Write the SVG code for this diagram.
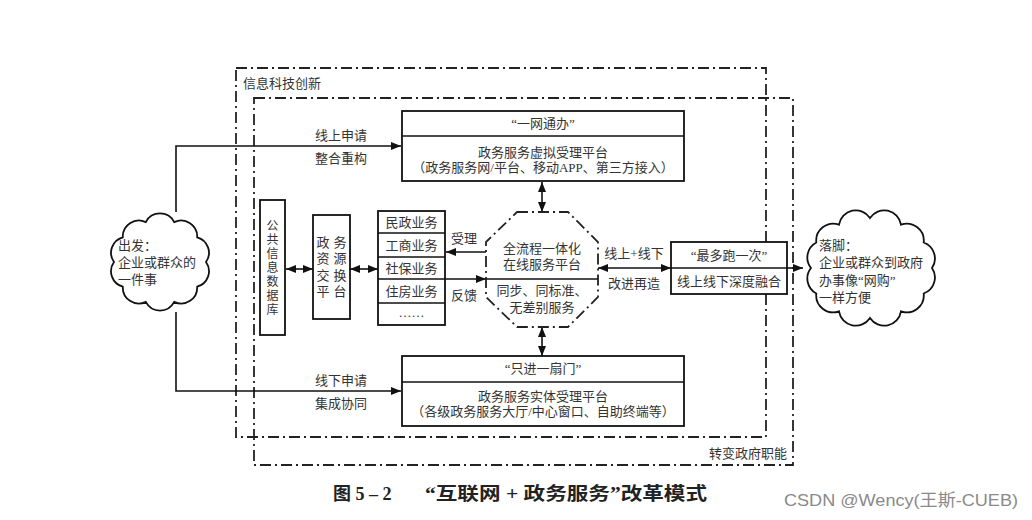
<svg xmlns="http://www.w3.org/2000/svg" width="1032" height="520" viewBox="0 0 1032 520">
<defs>
<marker id="ah" viewBox="0 0 10 10" refX="10" refY="5" markerWidth="10" markerHeight="10" markerUnits="userSpaceOnUse" orient="auto-start-reverse"><path d="M0,1 L10,5 L0,9 z" fill="#111"/></marker>
<style>
.t{font-family:"Liberation Serif","Noto Sans CJK SC",serif;font-size:13px;fill:#333}
.v{font-size:12px}
.c{text-anchor:middle}
.box{fill:#fff;stroke:#111;stroke-width:1.8}
.dd{fill:none;stroke:#222;stroke-width:1.8;stroke-dasharray:11 4 2 4}
.ln{fill:none;stroke:#111;stroke-width:1.6}
.cap{font-family:"Liberation Serif","Noto Sans CJK SC",serif;font-size:18px;font-weight:bold;fill:#222}
</style>
</defs>
<rect width="1032" height="520" fill="#fff"/>

<g id="frames">
<rect class="dd" x="236" y="68" width="530" height="369"/>
<rect class="dd" x="254" y="98" width="539" height="367"/>
<text class="t" x="243" y="88">信息科技创新</text>
<text class="t" x="787" y="458" text-anchor="end">转变政府职能</text>
</g>

<g id="connectors">
<path class="ln" d="M176 212 V146 H401" marker-end="url(#ah)"/>
<path class="ln" d="M176 312 V391 H401" marker-end="url(#ah)"/>
<line class="ln" x1="286" y1="269" x2="313" y2="269" marker-start="url(#ah)" marker-end="url(#ah)"/>
<line class="ln" x1="350" y1="269" x2="378" y2="269" marker-start="url(#ah)" marker-end="url(#ah)"/>
<line class="ln" x1="486" y1="252" x2="446" y2="252" marker-end="url(#ah)"/>
<line class="ln" x1="445" y1="279" x2="486" y2="279" marker-end="url(#ah)"/>
<line class="ln" x1="542" y1="182" x2="542" y2="212" marker-start="url(#ah)" marker-end="url(#ah)"/>
<line class="ln" x1="542" y1="327" x2="542" y2="356" marker-start="url(#ah)" marker-end="url(#ah)"/>
<line class="ln" x1="598" y1="268" x2="671" y2="268" marker-start="url(#ah)" marker-end="url(#ah)"/>
<line class="ln" x1="787" y1="268" x2="803" y2="268" marker-end="url(#ah)"/>
<text class="t c" x="341" y="140">线上申请</text>
<text class="t c" x="341" y="163">整合重构</text>
<text class="t c" x="341" y="385">线下申请</text>
<text class="t c" x="341" y="408">集成协同</text>
<text class="t c" x="464" y="243">受理</text>
<text class="t c" x="464" y="300">反馈</text>
<text class="t c" x="634" y="258">线上+线下</text>
<text class="t c" x="634" y="288">改进再造</text>
</g>

<g id="start-cloud">
<path class="box" d="M206,262 A16,16 0 0 1 197.2,286.7 A16,16 0 0 1 174.2,301.9 A16,16 0 0 1 145.8,301.9 A16,16 0 0 1 122.8,286.7 A16,16 0 0 1 114,262 A16,16 0 0 1 122.8,237.3 A16,16 0 0 1 145.8,222.1 A16,16 0 0 1 174.2,222.1 A16,16 0 0 1 197.2,237.3 A16,16 0 0 1 206,262 Z"/>
<text class="t" x="118" y="250">出发：</text>
<text class="t" x="118" y="267">企业或群众的</text>
<text class="t" x="118" y="284">一件事</text>
</g>

<g id="top-platform">
<rect class="box" x="402" y="111" width="282" height="70"/>
<line class="ln" x1="402" y1="136" x2="684" y2="136"/>
<text class="t c" x="543" y="128">“一网通办”</text>
<text class="t c" x="543" y="157">政务服务虚拟受理平台</text>
<text class="t c" x="543" y="172">（政务服务网/平台、移动APP、第三方接入）</text>
</g>

<g id="bottom-platform">
<rect class="box" x="402" y="356" width="282" height="70"/>
<line class="ln" x1="402" y1="382" x2="684" y2="382"/>
<text class="t c" x="543" y="373">“只进一扇门”</text>
<text class="t c" x="543" y="401">政务服务实体受理平台</text>
<text class="t c" x="543" y="416">（各级政务服务大厅/中心窗口、自助终端等）</text>
</g>

<g id="database">
<rect class="box" x="260" y="200" width="25" height="135"/>
<text class="t v c" x="272.5" y="230">公</text>
<text class="t v c" x="272.5" y="244">共</text>
<text class="t v c" x="272.5" y="258">信</text>
<text class="t v c" x="272.5" y="272">息</text>
<text class="t v c" x="272.5" y="286">数</text>
<text class="t v c" x="272.5" y="300">据</text>
<text class="t v c" x="272.5" y="314">库</text>
</g>

<g id="exchange">
<rect class="box" x="313" y="215" width="37" height="104"/>
<text class="t c" x="323" y="247">政</text><text class="t c" x="340" y="247">务</text>
<text class="t c" x="323" y="263">资</text><text class="t c" x="340" y="263">源</text>
<text class="t c" x="323" y="280">交</text><text class="t c" x="340" y="280">换</text>
<text class="t c" x="323" y="296">平</text><text class="t c" x="340" y="296">台</text>
</g>

<g id="business">
<rect class="box" x="378" y="211" width="67" height="114"/>
<line class="ln" x1="378" y1="233" x2="445" y2="233"/>
<line class="ln" x1="378" y1="257" x2="445" y2="257"/>
<line class="ln" x1="378" y1="279" x2="445" y2="279"/>
<line class="ln" x1="378" y1="303" x2="445" y2="303"/>
<text class="t c" x="411.5" y="227">民政业务</text>
<text class="t c" x="411.5" y="250">工商业务</text>
<text class="t c" x="411.5" y="273">社保业务</text>
<text class="t c" x="411.5" y="296">住房业务</text>
<text class="t c" x="411.5" y="317">……</text>
</g>

<g id="online-platform">
<polygon class="dd" points="517,212 568,212 598,242 598,297 568,327 517,327 486,297 486,242" style="fill:#fff"/>
<line class="ln" x1="486" y1="279" x2="598" y2="279"/>
<text class="t c" x="542" y="253">全流程一体化</text>
<text class="t c" x="542" y="269">在线服务平台</text>
<text class="t c" x="542" y="295">同步、同标准、</text>
<text class="t c" x="542" y="312">无差别服务</text>
</g>

<g id="run-once">
<rect class="box" x="671" y="242" width="116" height="52"/>
<line class="ln" x1="671" y1="268" x2="787" y2="268"/>
<text class="t c" x="729" y="260">“最多跑一次”</text>
<text class="t c" x="729" y="286">线上线下深度融合</text>
</g>

<g id="end-cloud">
<path class="box" d="M932,268 A17,17 0 0 1 923.7,293.5 A17,17 0 0 1 901,311.3 A17,17 0 0 1 870,318 A17,17 0 0 1 839,311.3 A17,17 0 0 1 816.3,293.5 A17,17 0 0 1 811,268 A17,17 0 0 1 816.3,242.5 A17,17 0 0 1 839,224.7 A17,17 0 0 1 870,218 A17,17 0 0 1 901,224.7 A17,17 0 0 1 923.7,242.5 A17,17 0 0 1 932,268 Z"/>
<text class="t" x="819" y="250">落脚：</text>
<text class="t" x="819" y="267">企业或群众到政府</text>
<text class="t" x="819" y="285">办事像“网购”</text>
<text class="t" x="819" y="302">一样方便</text>
</g>

<g id="caption">
<text class="cap" x="333" y="500">图 5 – 2</text>
<text class="cap" x="425" y="500" textLength="282" lengthAdjust="spacingAndGlyphs">“互联网 + 政务服务”改革模式</text>
<text x="784" y="506" textLength="234" lengthAdjust="spacingAndGlyphs" style="font-family:'Liberation Sans','Noto Sans CJK SC',sans-serif;font-size:17px;fill:#8a8a8a">CSDN @Wency(王斯-CUEB)</text>
</g>
</svg>
